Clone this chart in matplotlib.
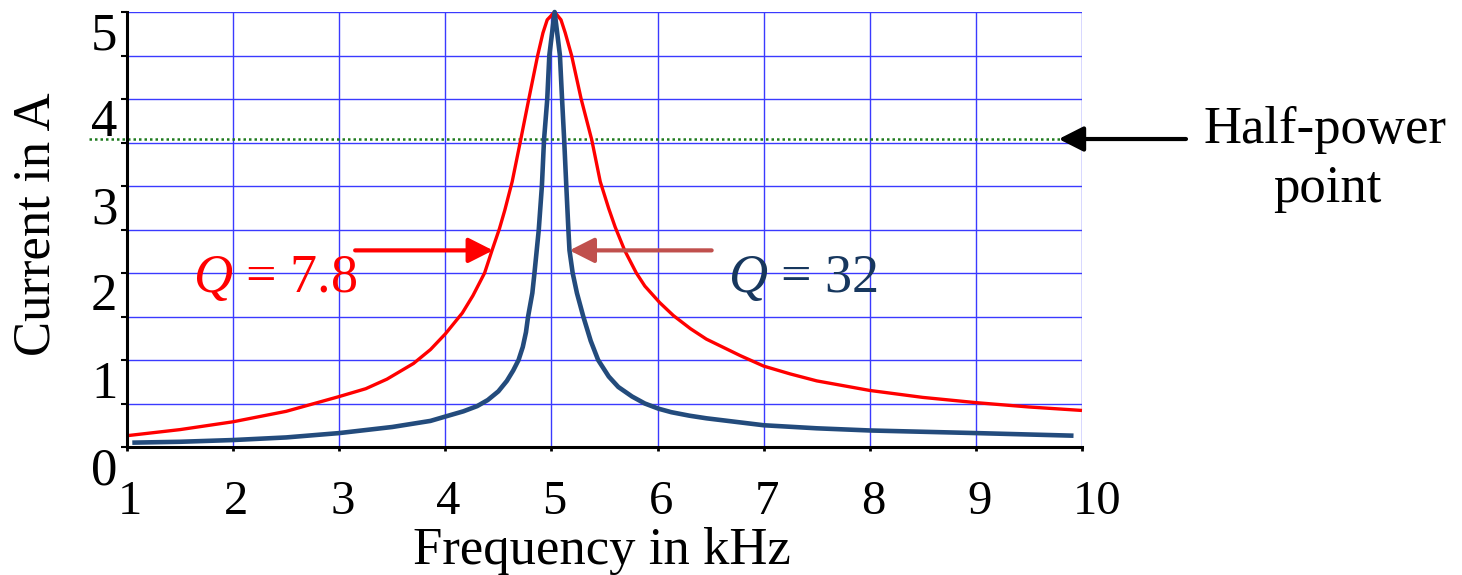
import numpy as np
import matplotlib
matplotlib.use("Agg")
import matplotlib.pyplot as plt
from matplotlib.transforms import ScaledTranslation

plt.rcParams["font.family"] = ["Liberation Serif", "DejaVu Serif"]
plt.rcParams["mathtext.fontset"] = "custom"
plt.rcParams["mathtext.rm"] = "Liberation Serif"
plt.rcParams["mathtext.it"] = "Liberation Serif:italic"

# Resonance curve, Q = 7.8  (frequency in kHz, current in A)
freq_q78 = [1.00, 1.50, 2.00, 2.50, 3.00, 3.25, 3.45, 3.70, 3.86, 4.00, 4.16,
            4.26, 4.37, 4.44, 4.51, 4.56, 4.63, 4.71, 4.79, 4.87, 4.92, 4.96,
            5.03, 5.09, 5.13, 5.19, 5.28, 5.38, 5.46, 5.54, 5.60, 5.69, 5.80,
            5.88, 6.02, 6.15, 6.31, 6.46, 6.78, 7.00, 7.25, 7.50, 8.00, 8.50,
            9.00, 9.50, 10.00]
curr_q78 = [0.13, 0.20, 0.29, 0.41, 0.58, 0.67, 0.78, 0.96, 1.12, 1.30, 1.54,
            1.74, 2.00, 2.26, 2.51, 2.72, 3.05, 3.53, 4.02, 4.50, 4.76, 4.91,
            5.00, 4.91, 4.76, 4.50, 4.00, 3.53, 3.05, 2.74, 2.53, 2.26, 2.00,
            1.85, 1.66, 1.51, 1.36, 1.24, 1.05, 0.93, 0.84, 0.76, 0.65, 0.57,
            0.51, 0.46, 0.42]

# Resonance curve, Q = 32
freq_q32 = [1.05, 1.50, 2.00, 2.50, 3.00, 3.50, 3.86, 4.00, 4.17, 4.30, 4.40,
            4.50, 4.58, 4.64, 4.69, 4.73, 4.76, 4.78, 4.82, 4.84, 4.88, 4.91,
            4.93, 4.96, 4.98, 5.03, 5.08, 5.10, 5.12, 5.14, 5.16, 5.17, 5.20,
            5.24, 5.30, 5.37, 5.44, 5.54, 5.63, 5.76, 5.88, 6.01, 6.13, 6.30,
            6.46, 7.00, 7.50, 8.00, 9.00, 9.92]
curr_q32 = [0.05, 0.06, 0.08, 0.11, 0.16, 0.23, 0.30, 0.35, 0.41, 0.47, 0.54,
            0.64, 0.76, 0.88, 1.00, 1.15, 1.32, 1.50, 1.77, 2.00, 2.49, 3.00,
            3.53, 3.99, 4.50, 5.00, 4.50, 4.00, 3.53, 3.00, 2.49, 2.26, 2.00,
            1.77, 1.50, 1.22, 1.00, 0.81, 0.69, 0.58, 0.50, 0.44, 0.40, 0.36,
            0.33, 0.25, 0.215, 0.19, 0.16, 0.13]

half_power_level = 3.54
x_ticks = [1, 2, 3, 4, 5, 6, 7, 8, 9, 10]
y_ticks = [0, 0.5, 1, 1.5, 2, 2.5, 3, 3.5, 4, 4.5, 5]
y_tick_labels = ["0", "", "1", "", "2", "", "3", "", "4", "", "5"]

RED = "#FF0000"
NAVY = "#234B7C"
NAVY_TEXT = "#17375E"
BROWN = "#C0504D"
GRID = "#3A3AFF"

W, H = 1462, 575
fig = plt.figure(figsize=(W / 100, H / 100), dpi=100)
ax = fig.add_axes([127 / W, 1 - 447 / H, (1082 - 127) / W, (447 - 12) / H])

ax.set_xlim(1, 10)
ax.set_ylim(0, 5)

# grid
for xv in x_ticks[1:]:
    ax.axvline(xv, color=GRID, lw=1.0, zorder=1)
for yv in y_ticks[1:]:
    ax.axhline(yv, color=GRID, lw=1.0, zorder=1)

# half-power level
ax.plot([0.64, 10], [half_power_level, half_power_level], linestyle=(0, (1, 1.2)),
        color="#1E7A1E", lw=1.8, clip_on=False, zorder=2)

# curves
ax.plot(freq_q78, curr_q78, color=RED, lw=2.4, clip_on=False, zorder=3,
        solid_joinstyle="round", solid_capstyle="butt")
ax.plot(freq_q32, curr_q32, color=NAVY, lw=3.3, clip_on=False, zorder=4,
        solid_joinstyle="round", solid_capstyle="butt")

# spines
for s in ("top", "right"):
    ax.spines[s].set_visible(False)
for s in ("left", "bottom"):
    ax.spines[s].set_linewidth(2.2)
    ax.spines[s].set_color("black")
    ax.spines[s].set_zorder(5)

ax.set_xticks(x_ticks)
ax.set_xticklabels([str(v) for v in x_ticks])
ax.set_yticks(y_ticks)
ax.set_yticklabels(y_tick_labels)
ax.tick_params(axis="x", direction="out", length=3, width=2, pad=21,
               labelsize=35)
ax.tick_params(axis="y", direction="out", length=4, width=1.5, pad=3,
               labelsize=38)

# tick label placement
for lab in ax.get_xticklabels():
    lab.set_horizontalalignment("left")
    lab.set_transform(lab.get_transform()
                      + ScaledTranslation(-9 / 100, 0, fig.dpi_scale_trans))
for lab in ax.get_yticklabels():
    lab.set_transform(lab.get_transform()
                      + ScaledTranslation(0, -19 / 100, fig.dpi_scale_trans))

# axis titles
fig.text(602 / W, 1 - 564 / H, "Frequency in kHz", ha="center", va="baseline",
         fontsize=38)
fig.text(37 / W, 1 - 224 / H, "Current in A", ha="center", va="center",
         rotation=90, fontsize=38)

# annotations
ax.text(1.62, 1.78, r"$Q$ = 7.8", color=RED, fontsize=39, ha="left",
        va="baseline")
ax.text(6.66, 1.78, r"$Q$ = 32", color=NAVY_TEXT, fontsize=39, ha="left",
        va="baseline")

arrow_style = "-|>,head_length=0.75,head_width=0.38"
ax.annotate("", xy=(4.45, 2.26), xytext=(3.15, 2.26),
            arrowprops=dict(arrowstyle=arrow_style, color=RED, lw=3,
                            shrinkA=0, shrinkB=0, mutation_scale=20),
            zorder=6)
ax.annotate("", xy=(5.17, 2.26), xytext=(6.51, 2.26),
            arrowprops=dict(arrowstyle=arrow_style, color=BROWN, lw=3,
                            shrinkA=0, shrinkB=0, mutation_scale=20),
            zorder=6)
ax.annotate("", xy=(9.78, half_power_level), xytext=(10.98, half_power_level),
            arrowprops=dict(arrowstyle=arrow_style, color="black", lw=3,
                            shrinkA=0, shrinkB=0, mutation_scale=20),
            annotation_clip=False, zorder=6)

fig.text(1325 / W, 1 - 143 / H, "Half-power", ha="center", va="baseline",
         fontsize=38)
fig.text(1327 / W, 1 - 202 / H, "point", ha="center", va="baseline",
         fontsize=38)

fig.savefig("out.png", dpi=100)
